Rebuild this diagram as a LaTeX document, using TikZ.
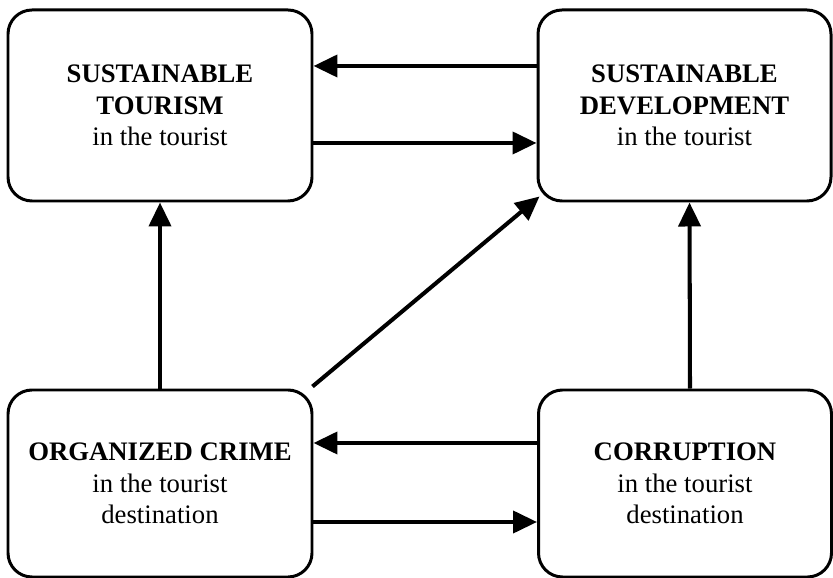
\documentclass[tikz,border=0pt]{standalone}
\usepackage{fontspec}
\setmainfont{Liberation Serif}
\usepackage{tikz}
\usetikzlibrary{arrows.meta}

\tikzset{
  box/.style={draw, line width=1.7pt, rounded corners=0.48cm, align=center,
    font=\fontsize{15.2}{18}\selectfont},
  arr/.style={line width=2.3pt, -{Triangle[length=0.48cm,width=0.44cm]}}
}

\begin{document}
\begin{tikzpicture}
      \useasboundingbox (0,0) rectangle (16.66,-11.56);
      % the four boxes
      \node[box, minimum width=6.08cm, minimum height=3.82cm] (tour) at (3.2,-2.11)
        {\textbf{SUSTAINABLE}\\\textbf{TOURISM}\\in the tourist};
      \node[box, minimum width=5.86cm, minimum height=3.82cm] (dev) at (13.69,-2.11)
        {\textbf{SUSTAINABLE}\\\textbf{DEVELOPMENT}\\in the tourist};
      \node[box, minimum width=6.08cm, minimum height=3.74cm] (crime) at (3.2,-9.67)
        {\textbf{ORGANIZED CRIME}\\in the tourist\\destination};
      \node[box, minimum width=5.86cm, minimum height=3.74cm] (corr) at (13.7,-9.67)
        {\textbf{CORRUPTION}\\in the tourist\\destination};
      % arrows
      \draw[arr] ([yshift=0.79cm]dev.west) -- ([yshift=0.79cm]tour.east);
      \draw[arr] ([yshift=-0.75cm]tour.east) -- ([yshift=-0.75cm]dev.west);
      \draw[arr] ([yshift=0.81cm]corr.west) -- ([yshift=0.81cm]crime.east);
      \draw[arr] ([yshift=-0.77cm]crime.east) -- ([yshift=-0.77cm]corr.west);
      \draw[arr] (crime.north) -- (tour.south);
      \draw[arr] ([xshift=0.1cm]corr.north) -- ([xshift=0.1cm]dev.south);
      \draw[arr] ([xshift=-0.02cm,yshift=0.04cm]crime.north east) -- ([xshift=0.06cm,yshift=0.12cm]dev.south west);
\end{tikzpicture}
\end{document}
